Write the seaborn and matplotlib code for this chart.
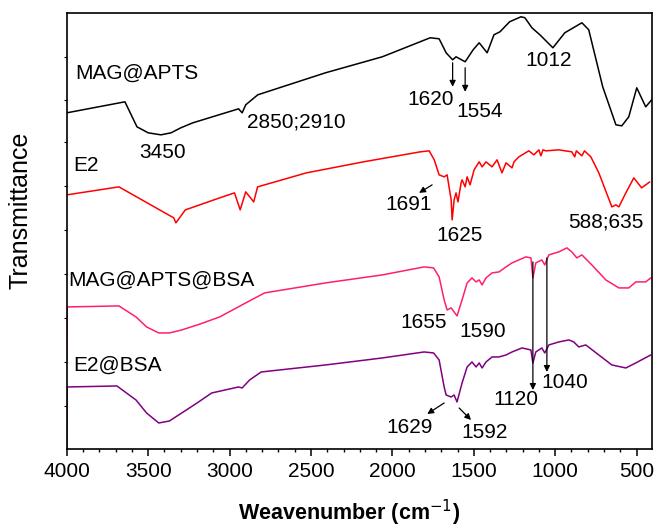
import matplotlib
matplotlib.use("Agg")
import matplotlib.pyplot as plt
import seaborn as sns
import pandas as pd
from matplotlib.ticker import MultipleLocator

# wavenumber (cm-1) and relative transmittance (arbitrary units, offset per sample)
wn_mag = [4000, 3643, 3569, 3500, 3422, 3360, 3300, 3226, 2945, 2923, 2901, 2827, 2411, 2062,
          1768, 1713, 1670, 1630, 1609, 1553, 1504, 1467, 1418, 1376, 1339, 1280, 1210, 1186,
          1143, 1094, 1014, 941, 836, 794, 708, 627, 591, 548, 499, 444, 407]
t_mag = [336, 347, 322, 316, 314, 316, 321, 326, 340, 336, 344, 354, 376, 392,
         411, 410, 396, 389, 392, 387, 399, 406, 396, 414, 417, 427, 432, 431,
         421, 414, 401, 416, 426, 419, 362, 324, 323, 332, 361, 342, 349]

wn_e2 = [4000, 3680, 3343, 3330, 3272, 3061, 2970, 2935, 2901, 2852, 2828, 2528, 2178, 1829,
         1774, 1743, 1713, 1682, 1664, 1639, 1633, 1621, 1609, 1597, 1578, 1572, 1553, 1541,
         1523, 1498, 1467, 1449, 1425, 1388, 1357, 1327, 1302, 1265, 1253, 1223, 1162, 1131,
         1100, 1088, 1075, 1057, 978, 898, 880, 870, 836, 820, 781, 732, 652, 627, 609, 566,
         517, 469, 419]
t_e2 = [254, 262, 231, 226, 239, 251, 256, 239, 257, 247, 262, 276, 287, 297,
        298, 289, 274, 272, 274, 249, 229, 249, 256, 247, 266, 269, 262, 272,
        264, 279, 287, 282, 287, 282, 289, 276, 286, 281, 287, 292, 298, 294,
        299, 293, 299, 298, 299, 297, 292, 298, 293, 298, 292, 276, 242, 244, 242, 256,
        271, 261, 267]

wn_mab = [4000, 3998, 3680, 3575, 3510, 3435, 3370, 3294, 3180, 3061, 2901, 2785, 2411, 2062,
          1805, 1747, 1713, 1682, 1664, 1639, 1621, 1603, 1572, 1541, 1511, 1486, 1467, 1449,
          1425, 1388, 1345, 1302, 1265, 1223, 1180, 1149, 1137, 1119, 1082, 1064, 1039, 978,
          928, 898, 867, 836, 775, 689, 609, 548, 505, 444, 413]
t_mab = [89, 142, 143, 132, 122, 116, 116, 119, 125, 132, 146, 156, 166, 174,
         182, 181, 172, 149, 139, 141, 137, 133, 149, 166, 171, 167, 169, 164,
         171, 176, 177, 182, 186, 189, 192, 191, 171, 186, 189, 184, 194, 197,
         201, 197, 191, 194, 184, 169, 161, 161, 167, 167, 171]

wn_eb = [4000, 3998, 3692, 3575, 3510, 3435, 3370, 3294, 3200, 3110, 2945, 2923, 2877, 2806,
         2411, 2062, 1805, 1747, 1713, 1682, 1670, 1639, 1621, 1603, 1572, 1541, 1511, 1486,
         1467, 1449, 1425, 1388, 1345, 1302, 1265, 1204, 1149, 1137, 1119, 1082, 1064, 1039,
         978, 916, 886, 855, 812, 732, 652, 566, 505, 413]
t_eb = [0, 62, 63, 49, 36, 26, 28, 36, 46, 56, 62, 61, 69, 77,
        84, 91, 97, 96, 89, 62, 54, 52, 54, 47, 66, 82, 87, 82,
        86, 81, 87, 92, 92, 94, 97, 101, 99, 86, 97, 101, 96, 104,
        107, 109, 107, 102, 104, 94, 84, 81, 86, 94]

samples = ["MAG@APTS", "E2", "MAG@APTS@BSA", "E2@BSA"]
colors = ["#000000", "#ff0000", "#ff1f6e", "#800080"]

frames = []
for name, w, t in zip(samples, [wn_mag, wn_e2, wn_mab, wn_eb], [t_mag, t_e2, t_mab, t_eb]):
    frames.append(pd.DataFrame({"wn": w, "T": t, "sample": name}))
df = pd.concat(frames, ignore_index=True)

sns.set_theme(style="ticks")
plt.rcParams["font.family"] = ["Liberation Sans", "DejaVu Sans"]
plt.rcParams["text.color"] = "black"
plt.rcParams["axes.labelcolor"] = "black"
plt.rcParams["xtick.color"] = "black"
plt.rcParams["ytick.color"] = "black"

fig = plt.figure(figsize=(6.55, 5.32), dpi=100)
ax = fig.add_axes([0.102, 0.156, 0.893, 0.820])

sns.lineplot(data=df, x="wn", y="T", hue="sample", palette=dict(zip(samples, colors)),
             estimator=None, sort=False, legend=False, linewidth=1.1, ax=ax)

ax.set_xlim(4000, 407)
ax.set_ylim(0, 436)
ax.xaxis.set_major_locator(MultipleLocator(500))
ax.xaxis.set_minor_locator(MultipleLocator(100))
ax.set_yticks([43, 87, 131, 175, 219, 263, 307, 349, 392])
ax.set_yticklabels([])
ax.tick_params(axis="x", which="major", direction="out", length=5, width=1.1,
               labelsize=15, pad=4)
ax.tick_params(axis="x", which="minor", direction="out", length=2.5, width=1.0)
ax.tick_params(axis="y", direction="out", length=2, width=0.8)
for s in ax.spines.values():
    s.set_visible(True)
    s.set_color("black")
    s.set_linewidth(1.2)

ax.set_xlabel("Weavenumber (cm$^{-1}$)", fontsize=15.5, fontweight="bold")
ax.xaxis.set_label_coords(0.482, -0.112)
ax.set_ylabel("Transmittance", fontsize=18)
ax.yaxis.set_label_coords(-0.058, 0.548)

fs = 15
ax.text(3949, 376, "MAG@APTS", fontsize=fs, ha="left", va="center")
ax.text(3961, 283, "E2", fontsize=fs, ha="left", va="center")
ax.text(3992, 169, "MAG@APTS@BSA", fontsize=fs, ha="left", va="center")
ax.text(3961, 84, "E2@BSA", fontsize=fs, ha="left", va="center")

labels = [("3450", 3410, 296), ("2850;2910", 2589, 327), ("1620", 1768, 349),
          ("1554", 1467, 337), ("1012", 1039, 388), ("1691", 1903, 244),
          ("1625", 1590, 213), ("588;635", 689, 227), ("1655", 1811, 126),
          ("1590", 1443, 117), ("1120", 1241, 49), ("1040", 941, 66),
          ("1629", 1897, 21), ("1592", 1431, 16)]
for txt, x, y in labels:
    ax.text(x, y, txt, fontsize=fs, ha="center", va="center")

arrows = [((1630, 386), (1630, 362)), ((1553, 381), (1553, 357)),
          ((1756, 264), (1836, 256)), ((1137, 187), (1137, 59)),
          ((1051, 191), (1051, 77)), ((1682, 46), (1786, 35)),
          ((1590, 41), (1517, 29))]
for tail, head in arrows:
    ax.annotate("", xy=head, xytext=tail,
                arrowprops=dict(arrowstyle="-|>", color="black", lw=0.9,
                                mutation_scale=9, shrinkA=0, shrinkB=0))

fig.savefig("out.png", dpi=100)
